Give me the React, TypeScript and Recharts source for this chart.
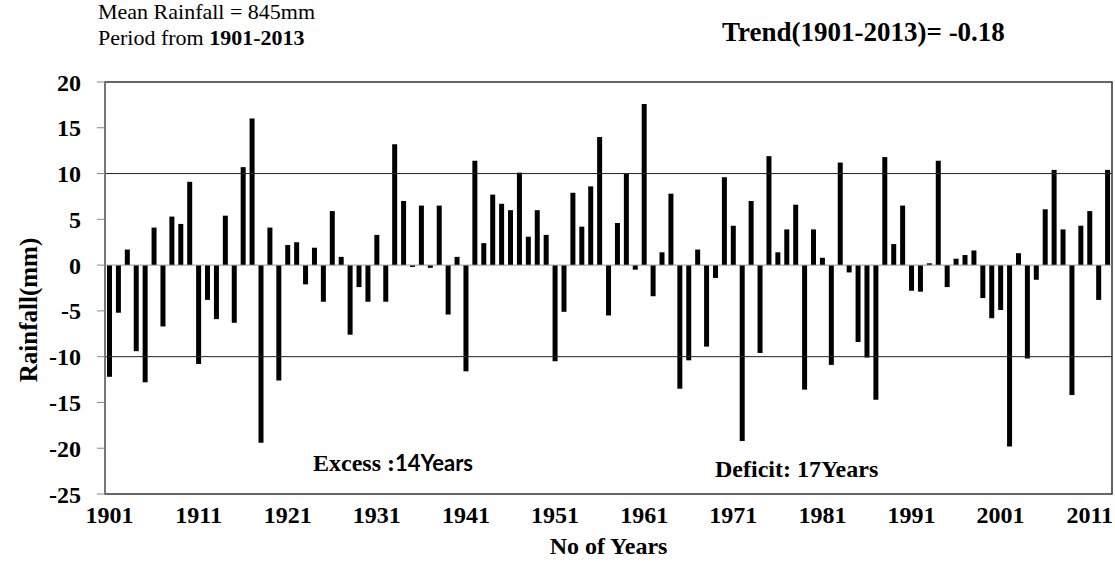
import React from "react";
import {
  BarChart,
  Bar,
  XAxis,
  YAxis,
  ReferenceLine,
  ReferenceArea,
} from "recharts";

// years 1901..2013
const years: number[] = Array.from({ length: 113 }, (_, i) => 1901 + i);

// rainfall departure (mm), one row per decade
const rainfall: number[] = [
  -12.2, -5.2, 1.7, -9.4, -12.8, 4.1, -6.7, 5.3, 4.5, 9.1,
  -10.8, -3.8, -5.9, 5.4, -6.3, 10.7, 16.0, -19.4, 4.1, -12.6,
  2.2, 2.5, -2.1, 1.9, -4.0, 5.9, 0.9, -7.6, -2.4, -4.0,
  3.3, -4.0, 13.2, 7.0, -0.2, 6.5, -0.3, 6.5, -5.4, 0.9,
  -11.6, 11.4, 2.4, 7.7, 6.7, 6.0, 10.1, 3.1, 6.0, 3.3,
  -10.5, -5.1, 7.9, 4.2, 8.6, 14.0, -5.5, 4.6, 10.0, -0.5,
  17.6, -3.4, 1.4, 7.8, -13.5, -10.4, 1.7, -8.9, -1.4, 9.6,
  4.3, -19.2, 7.0, -9.6, 11.9, 1.4, 3.9, 6.6, -13.6, 3.9,
  0.8, -10.9, 11.2, -0.8, -8.4, -10.1, -14.7, 11.8, 2.3, 6.5,
  -2.8, -2.9, 0.2, 11.4, -2.4, 0.7, 1.1, 1.6, -3.6, -5.8,
  -4.9, -19.8, 1.3, -10.2, -1.6, 6.1, 10.4, 3.9, -14.2, 4.3,
  5.9, -3.8, 10.4,
];

const yTicks = [-25, -20, -15, -10, -5, 0, 5, 10, 15, 20];

const data = years.map((y, i) => ({ year: y, value: rainfall[i] }));

const serif = "'Liberation Serif', 'Times New Roman', serif";

export default function App() {
  return (
    <div
      style={{
        position: "absolute",
        left: 0,
        top: 0,
        width: 1115,
        height: 575,
        background: "#fff",
        fontFamily: serif,
      }}
    >
      <BarChart
        width={1115}
        height={575}
        data={data}
        margin={{ top: 82, right: 3, bottom: 21, left: 0 }}
        barCategoryGap={0}
      >
        <XAxis
          dataKey="year"
          interval={9}
          axisLine={false}
          tickLine={false}
          tickSize={0}
          tickMargin={12}
          height={60}
          tick={{ fontSize: 24, fontWeight: 700, fill: "#000", fontFamily: serif }}
          label={{
            value: "No of Years",
            position: "insideBottom",
            offset: 0,
            style: { fontSize: 24, fontWeight: 700, fill: "#000", fontFamily: serif },
          }}
        />
        <YAxis
          domain={[-25, 20]}
          ticks={yTicks}
          interval={0}
          width={105}
          tickSize={8}
          tickMargin={16}
          axisLine={{ stroke: "#888" }}
          tickLine={{ stroke: "#888" }}
          tick={{ fontSize: 24, fontWeight: 700, fill: "#000", fontFamily: serif }}
          label={{
            value: "Rainfall(mm)",
            angle: -90,
            position: "insideLeft",
            offset: 28,
            dy: 22,
            style: { fontSize: 25, fontWeight: 700, fill: "#000", fontFamily: serif, textAnchor: "middle" },
          }}
        />
        <ReferenceArea y1={-25} y2={20} fill="none" stroke="#333" strokeWidth={1.5} />
        <ReferenceLine y={10} stroke="#222" />
        <ReferenceLine y={-10} stroke="#222" />
        <ReferenceLine y={0} stroke="#999" />
        <Bar dataKey="value" fill="#000" barSize={5} isAnimationActive={false} />
      </BarChart>

      <div style={{ position: "absolute", left: 98, top: -1, fontSize: 22, lineHeight: "26px", color: "#000" }}>
        <div>Mean Rainfall = 845mm</div>
        <div>
          Period from <b>1901-2013</b>
        </div>
      </div>
      <div
        style={{
          position: "absolute",
          left: 722,
          top: 17,
          fontSize: 27,
          fontWeight: 700,
          color: "#000",
          whiteSpace: "nowrap",
        }}
      >
        Trend(1901-2013)= -0.18
      </div>
      <div
        style={{
          position: "absolute",
          left: 313,
          top: 449,
          fontSize: 24,
          fontWeight: 700,
          color: "#000",
          whiteSpace: "nowrap",
        }}
      >
        Excess :<span style={{ fontFamily: "Lato, 'Open Sans', sans-serif", fontSize: 22 }}>14Years</span>
      </div>
      <div
        style={{
          position: "absolute",
          left: 715,
          top: 456,
          fontSize: 24,
          fontWeight: 700,
          color: "#000",
          whiteSpace: "nowrap",
        }}
      >
        Deficit: 17Years
      </div>
    </div>
  );
}
